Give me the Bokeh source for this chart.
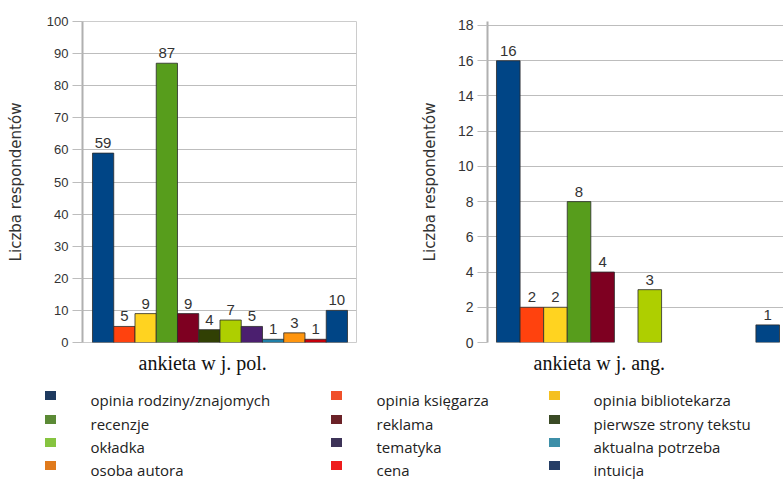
from bokeh.plotting import figure
from bokeh.models import Range1d, FixedTicker, ColumnDataSource, Title
from bokeh.layouts import column, row
from bokeh.embed import file_html
from bokeh.resources import INLINE
from bokeh.core.properties import value

categories = ["opinia rodziny/znajomych", "opinia księgarza", "opinia bibliotekarza",
              "recenzje", "reklama", "pierwsze strony tekstu",
              "okładka", "tematyka", "aktualna potrzeba",
              "osoba autora", "cena", "intuicja"]
pol_values = [59, 5, 9, 87, 9, 4, 7, 5, 1, 3, 1, 10]
ang_values = [16, 2, 2, 8, 4, 0, 3, 0, 0, 0, 0, 1]
bar_colors = ["#004586", "#ff420e", "#ffd320", "#579d1c", "#7e0021", "#314004",
              "#aecf00", "#4b1f6f", "#1f7fa8", "#ff950e", "#c5000b", "#004586"]
legend_colors = ["#1e3a5f", "#f0502a", "#f5c020", "#5b8a35", "#6b2228", "#3a4a25",
                 "#86c440", "#3d3358", "#3d8fa8", "#e07a1c", "#ee1c1c", "#263e66"]
pol_ticks = list(range(0, 101, 10))
ang_ticks = list(range(0, 19, 2))
y_title = "Liczba respondentów"
pol_title = "ankieta w j. pol."
ang_title = "ankieta w j. ang."

GRID = "#bdbdbd"
TXT = "#333333"


def make_chart(vals, ticks, ytop, width, height, xr, borders, tick_size, label_standoff,
               title, title_offset):
    left, right, top, bottom = borders
    p = figure(width=width, height=height, x_range=Range1d(*xr),
               y_range=Range1d(0, ytop), output_backend="svg",
               toolbar_location=None, min_border_left=left, min_border_right=right,
               min_border_top=top, min_border_bottom=bottom)
    p.background_fill_color = "white"
    p.border_fill_color = "white"
    p.xaxis.visible = False
    p.xgrid.visible = False
    p.ygrid.ticker = FixedTicker(ticks=ticks)
    p.ygrid.grid_line_color = GRID
    p.ygrid.grid_line_width = 1
    ax = p.yaxis[0]
    ax.ticker = FixedTicker(ticks=ticks)
    ax.minor_tick_line_color = None
    ax.major_tick_out = 10
    ax.major_tick_in = 0
    ax.major_tick_line_color = GRID
    ax.axis_line_color = "#b0b0b0"
    ax.axis_line_width = 2
    ax.major_label_standoff = 4
    ax.major_label_text_font = "Liberation Sans"
    ax.major_label_text_font_size = tick_size
    ax.major_label_text_color = TXT
    ax.axis_label = y_title
    ax.axis_label_text_font = "DejaVu Sans"
    ax.axis_label_text_font_size = "15px"
    ax.axis_label_text_font_style = "normal"
    ax.axis_label_text_color = TXT
    ax.axis_label_standoff = label_standoff

    xs = [i + 1 for i, v in enumerate(vals) if v > 0]
    tops = [v for v in vals if v > 0]
    cols = [bar_colors[i] for i, v in enumerate(vals) if v > 0]
    src = ColumnDataSource(dict(x=xs, top=tops, color=cols, lab=[str(v) for v in tops]))
    p.vbar(x="x", top="top", width=1.0, bottom=0, fill_color="color", source=src,
           line_color="#2a2a2a", line_width=1, line_alpha=0.8)
    p.text(x="x", y="top", text="lab", source=src, text_align="center",
           text_baseline="bottom", y_offset=-5, text_font=value("Liberation Sans"),
           text_font_size="15px", text_color=TXT)
    p.add_layout(Title(text=title, align="left", offset=title_offset,
                       text_font="Liberation Serif", text_font_size="20px",
                       text_font_style="normal", text_color="#111111", standoff=14),
                 "below")
    return p


# left chart: frame 82..356 (274px), bars 92..347, y frame 21..342
p1 = make_chart(pol_values, pol_ticks, 100, 390, 380, (0.0294, 12.924), (82, 34, 21, 38),
                "13px", 19, pol_title, 56)
p1.outline_line_color = "#cccccc"

# right chart: frame 487..783 (296px), 18 at y=25
p2 = make_chart(ang_values, ang_ticks, 18.227, 393, 380, (0.1184, 12.6696), (97, 0, 21, 38),
                "14px", 16, ang_title, 46)
p2.outline_line_color = None

# legend
lw, lh = 783, 99
pl = figure(width=lw, height=lh, x_range=Range1d(0, lw), y_range=Range1d(lh, 0),
            output_backend="svg", toolbar_location=None, min_border=0)
pl.axis.visible = False
pl.grid.visible = False
pl.outline_line_color = None
col_sq = [50, 336, 554]
col_tx = [90, 376, 593]
row_y = [19, 43, 66, 89]
sx = [col_sq[i % 3] for i in range(len(categories))]
sy = [row_y[i // 3] - 4 for i in range(len(categories))]
tx = [col_tx[i % 3] for i in range(len(categories))]
ty = [row_y[i // 3] for i in range(len(categories))]
lsrc = ColumnDataSource(dict(sx=sx, sy=sy, tx=tx, ty=ty, lab=categories, c=legend_colors))
pl.rect(x="sx", y="sy", width=11, height=9, fill_color="c", line_color=None, source=lsrc)
pl.text(x="tx", y="ty", text="lab", source=lsrc, text_align="left", text_baseline="middle",
        text_font=value("Open Sans"), text_font_size="15px", text_color="#222222")

layout = column(row(p1, p2), pl)
open("out.html", "w").write(file_html(layout, INLINE))
